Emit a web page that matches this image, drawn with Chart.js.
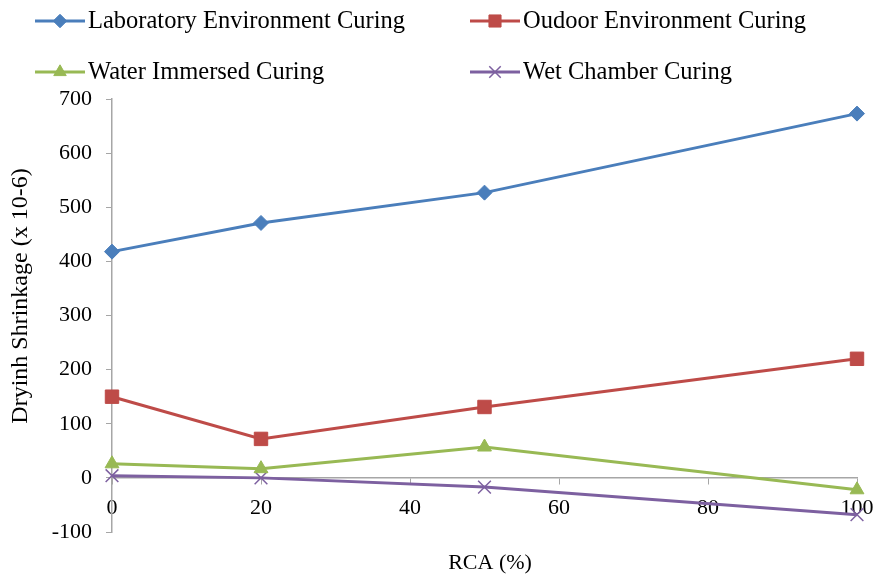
<!DOCTYPE html>
<html>
<head>
<meta charset="utf-8">
<script src="https://cdn.jsdelivr.net/npm/chart.js@4/dist/chart.umd.min.js"></script>
<style>
    html, body { margin: 0; padding: 0; background: #fff; }
    #wrap { position: relative; width: 878px; height: 581px; }
</style>
</head>
<body>
<div id="wrap"><canvas id="chart" width="878" height="581"></canvas></div>
<script>
const rca = [0, 20, 50, 100];
const labCuring = [418, 471, 527, 673];
const outdoorCuring = [150, 72, 131, 220];
const waterCuring = [26, 17, 57, -22];
const wetChamberCuring = [4, 0, -17, -68];

const FONT = "'Liberation Serif', 'Times New Roman', serif";
const AXIS_GREY = "#a6a6a6";

function toPoints(values) {
    return values.map((v, i) => ({ x: rca[i], y: v }));
}

const series = [
    { label: "Laboratory Environment Curing", data: labCuring, color: "#4a7ebb", style: "rectRot", radius: 7.5, legendX: 35, legendY: 21 },
    { label: "Oudoor Environment Curing", data: outdoorCuring, color: "#be4b48", style: "rect", radius: 9.5, legendX: 470, legendY: 21 },
    { label: "Water Immersed Curing", data: waterCuring, color: "#98b954", style: "triangle", radius: 8, legendX: 35, legendY: 72 },
    { label: "Wet Chamber Curing", data: wetChamberCuring, color: "#7d60a0", style: "crossRot", radius: 9, legendX: 470, legendY: 72 },
];

// legend in two columns plus both axis titles, drawn on the canvas
const extrasPlugin = {
    id: "extras",
    afterDraw(chart) {
        const ctx = chart.ctx;
        ctx.save();
        chart.data.datasets.forEach((ds, i) => {
            const s = series[i];
            ctx.strokeStyle = s.color;
            ctx.lineWidth = 3;
            ctx.beginPath();
            ctx.moveTo(s.legendX, s.legendY);
            ctx.lineTo(s.legendX + 50, s.legendY);
            ctx.stroke();
            ctx.fillStyle = s.color;
            ctx.lineWidth = s.style === "crossRot" ? 1.5 : 1;
            Chart.helpers.drawPoint(ctx, { pointStyle: s.style, radius: s.radius * 0.9, borderWidth: ctx.lineWidth }, s.legendX + 25, s.legendY);
            ctx.fillStyle = "#000";
            ctx.font = "24.5px " + FONT;
            ctx.textBaseline = "middle";
            ctx.textAlign = "left";
            ctx.fillText(ds.label, s.legendX + 53, s.legendY + 1);
        });
        ctx.fillStyle = "#000";
        ctx.textAlign = "center";
        ctx.textBaseline = "middle";
        ctx.font = "22px " + FONT;
        ctx.fillText("RCA (%)", 490, 563);
        ctx.translate(21, 296);
        ctx.rotate(-Math.PI / 2);
        ctx.font = "24px " + FONT;
        ctx.fillText("Dryinh Shrinkage (x 10-6)", 0, 0);
        ctx.restore();
    },
};

new Chart(document.getElementById("chart"), {
    type: "line",
    data: {
        datasets: series.map((s) => ({
            label: s.label,
            data: toPoints(s.data),
            borderColor: s.color,
            backgroundColor: s.color,
            borderWidth: 3,
            pointStyle: s.style,
            pointRadius: s.radius,
            pointBorderWidth: s.style === "crossRot" ? 1.5 : 1,
            tension: 0,
            clip: false,
        })),
    },
    options: {
        responsive: false,
        animation: false,
        layout: { padding: { left: 0, right: 21, top: 99, bottom: 49 } },
        plugins: {
            legend: { display: false },
            tooltip: { enabled: false },
        },
        scales: {
            x: {
                type: "linear",
                position: { y: 0 },
                min: 0,
                max: 100,
                afterFit(scale) {
                    // the end labels may overhang, keep the plot width fixed
                    scale.paddingLeft = 0;
                    scale.paddingRight = 0;
                },
                ticks: { stepSize: 20, color: "#000", font: { family: FONT, size: 22 }, padding: 11 },
                grid: { drawOnChartArea: false, color: AXIS_GREY, tickLength: 6 },
                border: { color: AXIS_GREY, width: 1.5 },
            },
            y: {
                min: -100,
                max: 700,
                afterFit(scale) { scale.width = 112; },
                ticks: { stepSize: 100, color: "#000", font: { family: FONT, size: 22 }, padding: 14 },
                grid: { drawOnChartArea: false, color: AXIS_GREY, tickLength: 6 },
                border: { color: AXIS_GREY, width: 1.5 },
            },
        },
    },
    plugins: [extrasPlugin],
});
</script>
</body>
</html>
